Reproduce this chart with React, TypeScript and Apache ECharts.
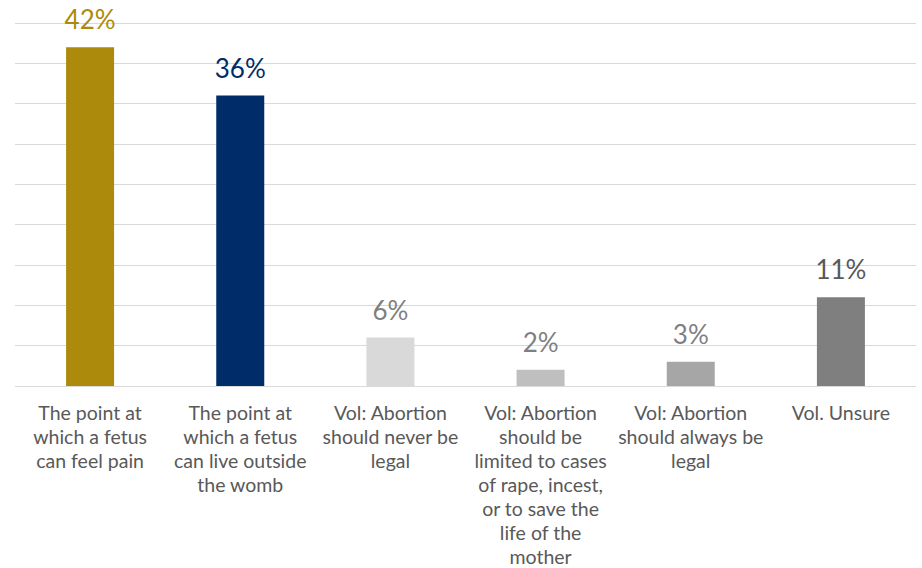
import React, { useEffect, useRef } from "react";
import * as echarts from "echarts";

const categories = [
  "The point at\nwhich a fetus\ncan feel pain",
  "The point at\nwhich a fetus\ncan live outside\nthe womb",
  "Vol: Abortion\nshould never be\nlegal",
  "Vol: Abortion\nshould be\nlimited to cases\nof rape, incest,\nor to save the\nlife of the\nmother",
  "Vol: Abortion\nshould always be\nlegal",
  "Vol. Unsure",
];
const values = [42, 36, 6, 2, 3, 11];
const barColors = ["#AB8A0C", "#002D6A", "#D9D9D9", "#BFBFBF", "#A6A6A6", "#7F7F7F"];
const labelColors = ["#AB8A0C", "#002D6A", "#7F7F7F", "#7F7F7F", "#7F7F7F", "#595959"];

export default function App() {
  const ref = useRef<HTMLDivElement>(null);
  useEffect(() => {
    document.body.style.margin = "0";
    if (!ref.current) return;
    const chart = echarts.init(ref.current, null, { renderer: "svg" });
    chart.setOption({
      animation: false,
      grid: { left: 15, right: 6, top: 23, bottom: 177, containLabel: false },
      xAxis: {
        type: "category",
        data: categories,
        axisLine: { show: false },
        axisTick: { show: false },
        axisLabel: {
          interval: 0,
          margin: 14,
          color: "#595959",
          fontFamily: "Lato",
          fontSize: 19.5,
          lineHeight: 24,
          align: "center",
          verticalAlign: "top",
        },
      },
      yAxis: {
        type: "value",
        min: 0,
        max: 45,
        interval: 5,
        axisLabel: { show: false },
        axisLine: { show: false },
        axisTick: { show: false },
        splitLine: { lineStyle: { color: "#D9D9D9", width: 1 } },
      },
      series: [
        {
          type: "bar",
          barWidth: 48,
          data: values.map((v, i) => ({
            value: v,
            itemStyle: { color: barColors[i] },
            label: { color: labelColors[i] },
          })),
          label: {
            show: true,
            position: "top",
            distance: 15,
            fontFamily: "Lato",
            fontSize: 26,
            formatter: "{c}%",
          },
        },
      ],
    });
    return () => chart.dispose();
  }, []);
  return <div ref={ref} style={{ width: 922, height: 568, overflow: "hidden" }} />;
}
